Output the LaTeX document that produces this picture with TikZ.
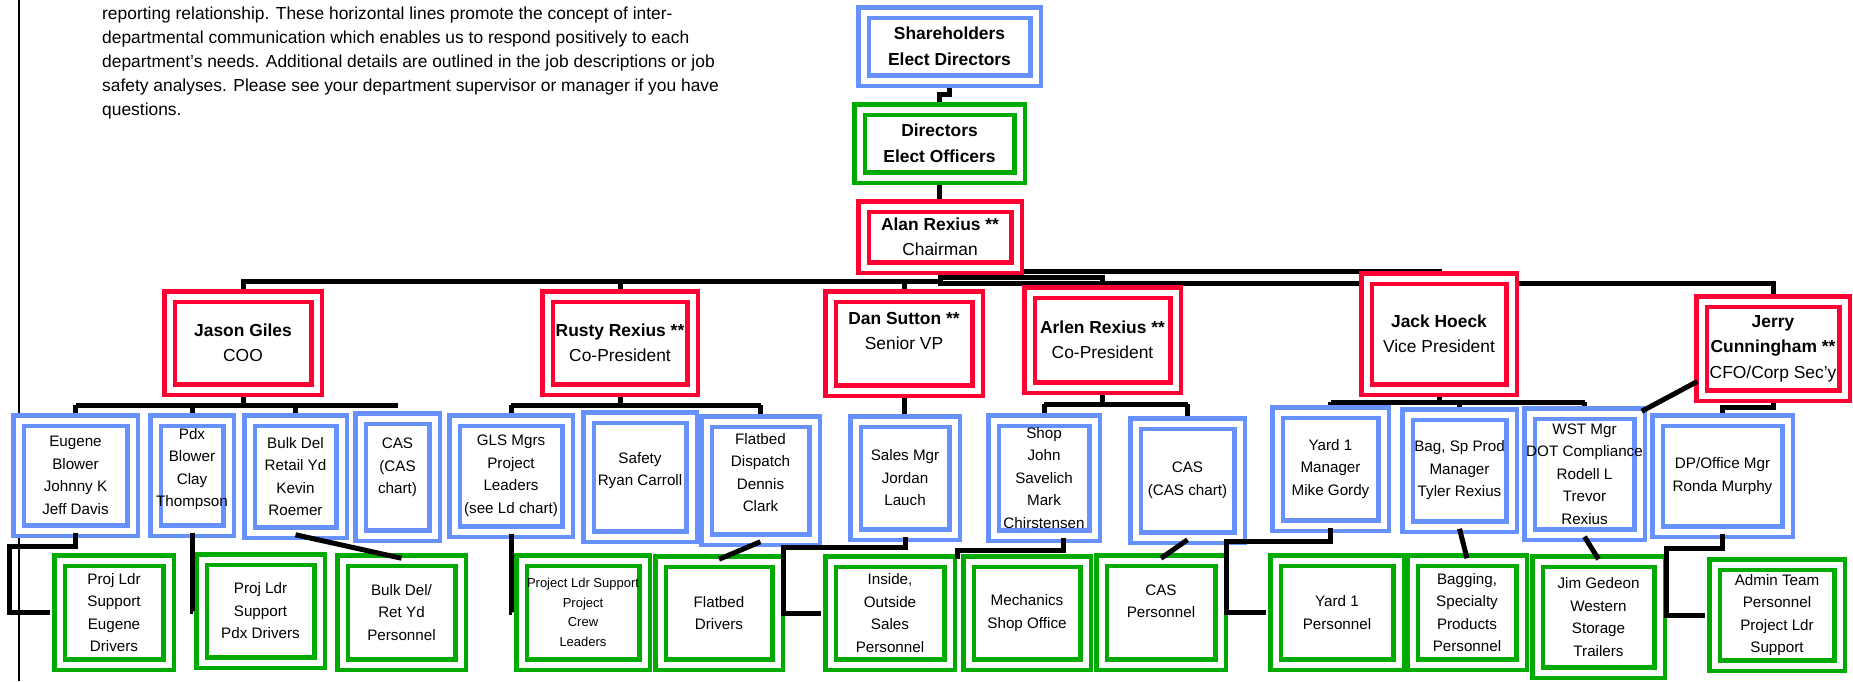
\documentclass[tikz,border=0pt]{standalone}
\usepackage{fontspec}
\setmainfont{Liberation Sans}
\usetikzlibrary{backgrounds,calc}
\definecolor{orgred}{RGB}{255,0,51}
\definecolor{orgblue}{RGB}{102,145,255}
\definecolor{orggreen}{RGB}{0,170,0}
\tikzset{
  chartbox/.style={fill=white,line width=4.5pt,double=white,double distance=6pt,
    align=center,inner sep=0pt},
  redbox/.style={chartbox,draw=orgred,font=\fontsize{17.4}{25.5}\selectfont},
  bluebox/.style={chartbox,draw=orgblue,font=\fontsize{15.2}{22.5}\selectfont},
  greenbox/.style={chartbox,draw=orggreen,font=\fontsize{15.2}{22.5}\selectfont},
  wire/.style={line width=5pt},
  elbow/.style={wire,shorten >=7pt}
}

\begin{document}
\begin{tikzpicture}[x=1pt,y=-1pt]

  \useasboundingbox (0,0) rectangle (1853,681);
  \draw[line width=2.5pt] (19,0) -- (19,681);

  \node[anchor=north west,align=left,inner sep=0pt,
    font=\fontsize{17.4}{24}\selectfont] (intro) at (102,7)
    {reporting relationship. These horizontal lines promote the concept of inter-\\
     departmental communication which enables us to respond positively to each\\
     department’s needs. Additional details are outlined in the job descriptions or job\\
     safety analyses. Please see your department supervisor or manager if you have\\
     questions.};

  % top of the chart
  \node[bluebox,font=\fontsize{17.4}{25.5}\selectfont\bfseries,
    minimum width=172,minimum height=68] (share) at (949.5,46.5)
    {Shareholders\\Elect Directors};
  \node[greenbox,font=\fontsize{17.4}{25.5}\selectfont\bfseries,
    minimum width=160,minimum height=68] (direc) at (939.5,143.5)
    {Directors\\Elect Officers};
  \node[redbox,minimum width=153,minimum height=61] (alan) at (940,237)
    {\textbf{Alan Rexius **}\\Chairman};

  % officers
  \node[redbox,minimum width=147,minimum height=93] (jason) at (243,343)
    {\textbf{Jason Giles}\\COO};
  \node[redbox,minimum width=145,minimum height=93] (rusty) at (620,343)
    {\textbf{Rusty Rexius **}\\Co-President};
  \node[redbox,minimum width=147,minimum height=94] (dan) at (904,343.5)
    {\textbf{Dan Sutton **}\\Senior VP\\~};
  \node[redbox,minimum width=146,minimum height=95] (arlen) at (1102.5,340)
    {\textbf{Arlen Rexius **}\\Co-President};
  \node[redbox,minimum width=145,minimum height=111] (jack) at (1439,334)
    {\textbf{Jack Hoeck}\\Vice President};
  \node[redbox,minimum width=143,minimum height=94] (jerry) at (1773,348.5)
    {\textbf{Jerry}\\\textbf{Cunningham **}\\CFO/Corp Sec’y};

  % managers
  \node[bluebox,minimum width=114,minimum height=110] (eugene) at (75.5,475.5)
    {Eugene\\Blower\\Johnny K\\Jeff Davis};
  \node[bluebox,minimum width=73,minimum height=110] (pdx) at (192,475.5)
    {Pdx\\Blower\\Clay\\Thompson\\[-6pt]~};
  \node[bluebox,minimum width=92,minimum height=112] (bulkdel) at (295.5,476.5)
    {Bulk Del\\Retail Yd\\Kevin\\Roemer};
  \node[bluebox,minimum width=74,minimum height=117] (cas1) at (397.5,477)
    {CAS\\(CAS\\chart)\\~};
  \node[bluebox,minimum width=113,minimum height=111] (gls) at (511,476)
    {GLS Mgrs\\Project\\Leaders\\(see Ld chart)};
  \node[bluebox,minimum width=103,minimum height=119] (safety) at (640,477)
    {Safety\\Ryan Carroll\\[-6pt]~};
  \node[bluebox,minimum width=108,minimum height=118] (fdisp) at (760.5,480.5)
    {Flatbed\\Dispatch\\Dennis\\Clark\\[-6pt]~};
  \node[bluebox,minimum width=99,minimum height=113] (sales) at (905,478)
    {Sales Mgr\\Jordan\\Lauch};
  \node[bluebox,minimum width=101,minimum height=115] (shop) at (1044,478)
    {Shop\\John\\Savelich\\Mark\\Chirstensen};
  \node[bluebox,minimum width=104,minimum height=114] (cas2) at (1187.5,480.5)
    {CAS\\(CAS chart)};
  \node[bluebox,minimum width=106,minimum height=113] (yard) at (1330.5,469)
    {Yard 1\\Manager\\Mike Gordy};
  \node[bluebox,minimum width=104,minimum height=112] (bag) at (1459.5,470.5)
    {Bag, Sp Prod\\Manager\\Tyler Rexius};
  \node[bluebox,minimum width=110,minimum height=121] (wst) at (1584.5,474)
    {WST Mgr\\\makebox[0pt]{DOT Compliance}\\Rodell L\\Trevor\\Rexius};
  \node[bluebox,minimum width=130,minimum height=111] (dp) at (1722.5,476)
    {DP/Office Mgr\\Ronda Murphy};

  % crews
  \node[greenbox,minimum width=109,minimum height=104] (g1) at (114,612.5)
    {Proj Ldr\\Support\\Eugene\\Drivers};
  \node[greenbox,minimum width=118,minimum height=103] (g2) at (260.5,611)
    {Proj Ldr\\Support\\Pdx Drivers};
  \node[greenbox,minimum width=118,minimum height=104] (g3) at (401.5,612.5)
    {Bulk Del/\\Ret Yd\\Personnel};
  \node[greenbox,font=\fontsize{13}{19.5}\selectfont,
    minimum width=123,minimum height=104] (g4) at (583,612.5)
    {Project Ldr Support\\Project\\Crew\\Leaders};
  \node[greenbox,minimum width=117,minimum height=103] (g5) at (719,613)
    {Flatbed\\Drivers};
  \node[greenbox,minimum width=119,minimum height=103] (g6) at (890,613)
    {Inside,\\Outside\\Sales\\Personnel};
  \node[greenbox,minimum width=117,minimum height=103] (g7) at (1027,613)
    {Mechanics\\Shop Office};
  \node[greenbox,minimum width=119,minimum height=104] (g8) at (1161,612.5)
    {CAS\\Personnel\\~};
  \node[greenbox,minimum width=123,minimum height=104] (g9) at (1337,612.5)
    {Yard 1\\Personnel};
  \node[greenbox,minimum width=109,minimum height=104] (g10) at (1467,612.5)
    {Bagging,\\Specialty\\Products\\Personnel};
  \node[greenbox,minimum width=122,minimum height=111] (g11) at (1598.5,617)
    {Jim Gedeon\\Western\\Storage\\Trailers};
  \node[greenbox,minimum width=125,minimum height=101] (g12) at (1777,615)
    {Admin Team\\Personnel\\Project Ldr\\Support};

  \coordinate (busA) at (0,281);
  \coordinate (busB) at (0,271.5);
  \coordinate (busC) at (0,277);
  \coordinate (busD) at (0,283);
  \coordinate (busJ) at (0,405);
  \coordinate (busR) at (0,405);
  \coordinate (busL) at (0,404);
  \coordinate (busH) at (0,402);
  \coordinate (busF) at (0,407);
  \coordinate (shoptap) at (957,559);

  % reporting lines behind the boxes
  \begin{scope}[on background layer]
    \draw[wire] (share) -- ++(0,48) -| (direc);
    \draw[wire] (direc) -- (direc |- alan);
    \draw[wire] (jason) |- (alan |- busA) -- (alan);
    \draw[wire] (rusty) -- (rusty |- busA);
    \draw[wire] (dan) -- (dan |- busA);
    \draw[wire] (alan) |- (jack |- busB) -- (jack);
    \draw[wire] (alan) |- (arlen |- busC) -- (arlen);
    \draw[wire] (alan) |- (jerry |- busD) -- (jerry);

    \draw[wire] (jason) -- (jason |- busJ);
    \draw[wire] (eugene |- busJ) -- (cas1 |- busJ);
    \foreach \n in {eugene,pdx,bulkdel}
      \draw[wire] (\n) -- (\n |- busJ);
    \draw[wire] (rusty) -- (rusty |- busR);
    \draw[wire] (gls |- busR) -- (fdisp |- busR);
    \foreach \n in {gls,fdisp}
      \draw[wire] (\n) -- (\n |- busR);
    \draw[wire] (dan) -- (dan |- sales);
    \draw[wire] (arlen) -- (arlen |- busL);
    \draw[wire] (shop |- busL) -- (cas2 |- busL);
    \foreach \n in {shop,cas2}
      \draw[wire] (\n) -- (\n |- busL);
    \draw[wire] (jack) -- (jack |- busH);
    \draw[wire] (yard |- busH) -- (wst |- busH);
    \foreach \n in {yard,bag,wst}
      \draw[wire] (\n) -- (\n |- busH);
    \draw[wire] (jerry) |- (dp |- busF) -- (dp);
  \end{scope}

  % managers to crews
  \draw[elbow] (eugene.south) |- (9,546) |- (g1.west);
  \draw[elbow] (pdx.south) |- (g2.west);
  \draw[wire] (bulkdel.south) -- (g3.north);
  \draw[elbow] (gls.south) |- (g4.west);
  \draw[wire] (fdisp.south) -- (g5.north);
  \draw[elbow] (sales.south) |- (783,547) |- (g6.west);
  \draw[wire] ($(shop.south)+(19,0)$) |- (957,550) -- (shoptap);
  \draw[wire] (cas2.south) -- (g8.north);
  \draw[elbow] (yard.south) |- (1226,541) |- (g9.west);
  \draw[wire] (bag.south) -- (g10.north);
  \draw[wire] (wst.south) -- (g11.north);
  \draw[elbow] (dp.south) |- (1666,548) |- (g12.west);
  \draw[wire] ($(jerry.west)+(-2,33)$) -- (wst.north east);

\end{tikzpicture}
\end{document}
